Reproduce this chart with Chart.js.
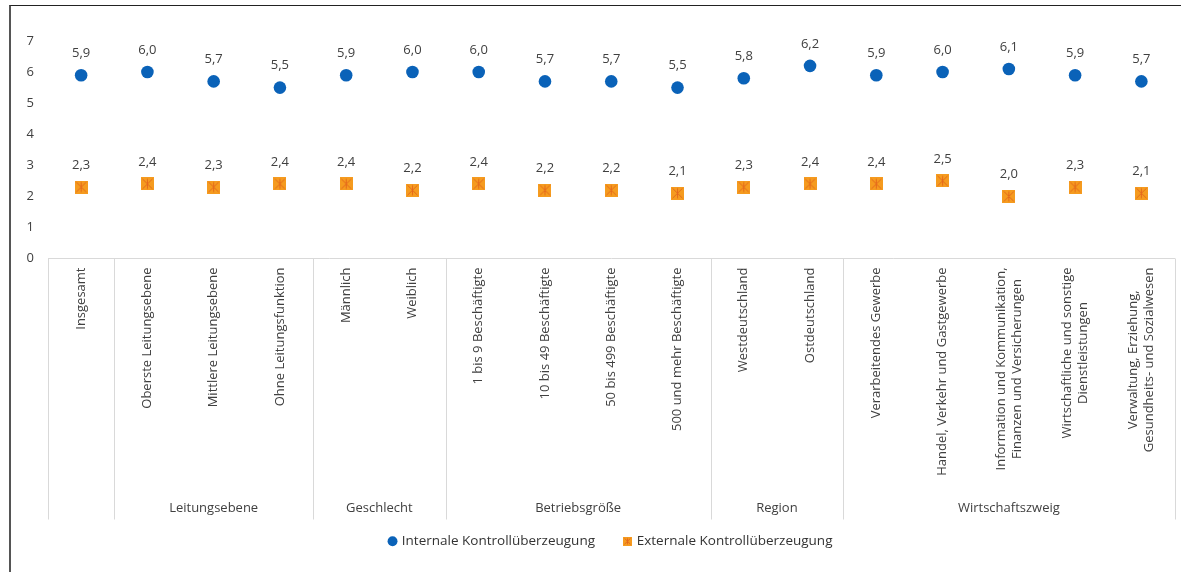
<!DOCTYPE html>
<html lang="de">
<head>
<meta charset="utf-8">
<title>Kontrollüberzeugung</title>
<script src="https://cdn.jsdelivr.net/npm/chart.js@4.4.1/dist/chart.umd.min.js"></script>
<style>
    html, body { margin: 0; padding: 0; background: #fff; }
    #wrap { position: relative; width: 1181px; height: 572px; }
    #rahmen {
        position: absolute; left: 9px; top: 5px; right: 0; bottom: 0;
        border-left: 2px solid #555; border-top: 1px solid #222;
        pointer-events: none;
    }
</style>
</head>
<body>
<div id="wrap">
    <canvas id="kontrollChart"></canvas>
    <div id="rahmen"></div>
</div>
<script>
const kategorien = [
    "Insgesamt",
    "Oberste Leitungsebene", "Mittlere Leitungsebene", "Ohne Leitungsfunktion",
    "Männlich", "Weiblich",
    "1 bis 9 Beschäftigte", "10 bis 49 Beschäftigte", "50 bis 499 Beschäftigte", "500 und mehr Beschäftigte",
    "Westdeutschland", "Ostdeutschland",
    "Verarbeitendes Gewerbe",
    "Handel, Verkehr und Gastgewerbe",
    ["Information und Kommunikation,", "Finanzen und Versicherungen"],
    ["Wirtschaftliche und sonstige", "Dienstleistungen"],
    ["Verwaltung, Erziehung,", "Gesundheits- und Sozialwesen"]
];
const gruppen = ["", "Leitungsebene", "Geschlecht", "Betriebsgröße", "Region", "Wirtschaftszweig"];
const gruppenGroesse = [1, 3, 2, 4, 2, 5];
const internale = [5.9, 6.0, 5.7, 5.5, 5.9, 6.0, 6.0, 5.7, 5.7, 5.5, 5.8, 6.2, 5.9, 6.0, 6.1, 5.9, 5.7];
const externale = [2.3, 2.4, 2.3, 2.4, 2.4, 2.2, 2.4, 2.2, 2.2, 2.1, 2.3, 2.4, 2.4, 2.5, 2.0, 2.3, 2.1];
const yMin = 0;
const yMax = 7;

const SCHRIFT = '"Open Sans", "Noto Sans", sans-serif';
const BLAU = "#0a62b8";
const ORANGE = "#f59b1f";
const ORANGE_DUNKEL = "#e5691c";

function quadratMarker(size) {
    const c = document.createElement("canvas");
    c.width = size;
    c.height = size;
    const g = c.getContext("2d");
    g.fillStyle = ORANGE;
    g.fillRect(0, 0, size, size);
    g.strokeStyle = ORANGE_DUNKEL;
    g.lineWidth = 1;
    g.beginPath();
    g.moveTo(1.5, 1.5); g.lineTo(size - 1.5, size - 1.5);
    g.moveTo(size - 1.5, 1.5); g.lineTo(1.5, size - 1.5);
    g.moveTo(size / 2, 1.5); g.lineTo(size / 2, size - 1.5);
    g.stroke();
    return c;
}

const punktQuadrat = quadratMarker(13);
const legendeQuadrat = quadratMarker(9);

// Werte über den Punkten, Kategorien, Gruppen und Trennlinien
const beschriftungPlugin = {
    id: "beschriftung",
    afterDatasetsDraw(chart) {
        const ctx = chart.ctx;
        ctx.save();
        ctx.font = "13px " + SCHRIFT;
        ctx.fillStyle = "#404040";
        ctx.textAlign = "center";
        ctx.textBaseline = "middle";
        chart.data.datasets.forEach((ds, d) => {
            chart.getDatasetMeta(d).data.forEach((pt, i) => {
                const txt = ds.data[i].toFixed(1).replace(".", ",");
                ctx.fillText(txt, pt.x, pt.y - 22);
            });
        });
        ctx.restore();
    },
    afterDraw(chart) {
        const ctx = chart.ctx;
        const xs = chart.scales.x;
        const area = chart.chartArea;
        const achse = area.bottom;
        const unten = achse + 261;

        ctx.save();
        ctx.font = "13px " + SCHRIFT;
        ctx.fillStyle = "#404040";
        ctx.textBaseline = "middle";

        // Kategorien, um 90° gedreht
        kategorien.forEach((lab, i) => {
            const zeilen = Array.isArray(lab) ? lab : [lab];
            const breite = Math.max(...zeilen.map(z => ctx.measureText(z).width));
            ctx.save();
            ctx.translate(xs.getPixelForValue(i), achse + 9);
            ctx.rotate(-Math.PI / 2);
            ctx.textAlign = "center";
            zeilen.forEach((z, j) => {
                ctx.fillText(z, -breite / 2, (j - (zeilen.length - 1) / 2) * 16);
            });
            ctx.restore();
        });

        // Trennlinien und Gruppennamen
        const grenze = k => {
            if (k === 0) return area.left;
            if (k === kategorien.length) return area.right;
            return (xs.getPixelForValue(k - 1) + xs.getPixelForValue(k)) / 2;
        };
        ctx.strokeStyle = "#d9d9d9";
        ctx.lineWidth = 1;
        ctx.textAlign = "center";
        let start = 0;
        gruppenGroesse.forEach((n, g) => {
            const x0 = grenze(start);
            const x1 = grenze(start + n);
            ctx.beginPath();
            ctx.moveTo(Math.round(x0) + 0.5, achse);
            ctx.lineTo(Math.round(x0) + 0.5, unten);
            ctx.stroke();
            if (gruppen[g]) ctx.fillText(gruppen[g], (x0 + x1) / 2, achse + 250);
            start += n;
        });
        const xr = Math.round(grenze(kategorien.length)) + 0.5;
        ctx.beginPath();
        ctx.moveTo(xr, achse);
        ctx.lineTo(xr, unten);
        ctx.stroke();
        ctx.restore();
    }
};

const ctx = document.getElementById("kontrollChart").getContext("2d");
const kontrollChart = new Chart(ctx, {
    type: "line",
    data: {
        labels: kategorien,
        datasets: [
            {
                label: "Internale Kontrollüberzeugung",
                data: internale,
                showLine: false,
                pointStyle: "circle",
                pointRadius: 6.3,
                pointHoverRadius: 6.3,
                backgroundColor: BLAU,
                borderColor: BLAU,
                pointBorderWidth: 0
            },
            {
                label: "Externale Kontrollüberzeugung",
                data: externale,
                showLine: false,
                pointStyle: punktQuadrat,
                pointRadius: 6.5,
                pointHoverRadius: 6.5,
                backgroundColor: ORANGE,
                borderColor: ORANGE,
                pointBorderWidth: 0
            }
        ]
    },
    options: {
        responsive: true,
        maintainAspectRatio: false,
        animation: false,
        layout: { padding: { left: 12, right: 6, top: 41, bottom: 14 } },
        plugins: {
            tooltip: { enabled: false },
            legend: {
                position: "bottom",
                fullSize: false,
                labels: {
                    usePointStyle: true,
                    boxWidth: 5,
                    boxHeight: 7,
                    padding: 30,
                    color: "#333",
                    font: { family: SCHRIFT, size: 13.5 },
                    generateLabels(chart) {
                        const items = Chart.defaults.plugins.legend.labels.generateLabels(chart);
                        items[0].pointStyle = "circle";
                        items[1].pointStyle = legendeQuadrat;
                        return items;
                    }
                }
            }
        },
        scales: {
            x: {
                offset: true,
                grid: { display: false, drawTicks: false },
                border: { display: true, color: "#d9d9d9" },
                ticks: { display: false },
                afterFit(scale) { scale.height = 246; }
            },
            y: {
                min: yMin,
                max: yMax,
                grid: { display: false, drawTicks: false },
                border: { display: false },
                ticks: {
                    stepSize: 1,
                    padding: 14,
                    color: "#404040",
                    font: { family: SCHRIFT, size: 13 }
                },
                afterFit(scale) { scale.width = 36; }
            }
        }
    },
    plugins: [beschriftungPlugin]
});
</script>
</body>
</html>
